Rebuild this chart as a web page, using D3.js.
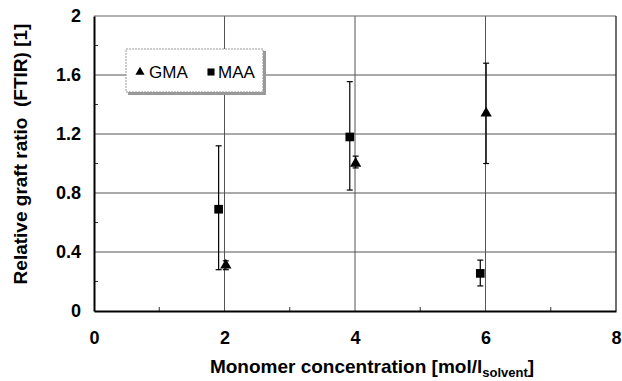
<!DOCTYPE html>
<html>
<head>
<meta charset="utf-8">
<script src="https://cdn.jsdelivr.net/npm/d3@7"></script>
<style>
  body { margin: 0; background: #fff; }
  text { font-family: "Liberation Sans", Arial, sans-serif; }
</style>
</head>
<body>
<div id="chart"></div>
<script>
// Axis ticks
const xTicks = [0, 2, 4, 6, 8];
const yTicks = [0, 0.4, 0.8, 1.2, 1.6, 2];
const xMinor = [1, 3, 5, 7];
const yMinor = [0.2, 0.6, 1.0, 1.4, 1.8];

// GMA series (triangles)
const gmaX = [2.02, 4.01, 6.01];
const gmaY = [0.31, 1.0, 1.34];
const gmaHi = [0.34, 1.05, 1.68];
const gmaLo = [0.28, 0.97, 1.0];

// MAA series (squares)
const maaX = [1.91, 3.92, 5.92];
const maaY = [0.69, 1.18, 0.255];
const maaHi = [1.12, 1.555, 0.345];
const maaLo = [0.28, 0.82, 0.17];

const width = 622, height = 381;
const margin = { top: 16, right: 6, bottom: 70, left: 94 };

const svg = d3.select("#chart").append("svg")
    .attr("width", width)
    .attr("height", height);

const x = d3.scaleLinear().domain([0, 8]).range([margin.left, width - margin.right]);
const y = d3.scaleLinear().domain([0, 2]).range([height - margin.bottom, margin.top]);

// gridlines
svg.append("g")
    .selectAll("line")
    .data(yTicks.filter(d => d > 0 && d < 2))
    .join("line")
    .attr("x1", x(0)).attr("x2", x(8))
    .attr("y1", d => y(d)).attr("y2", d => y(d))
    .attr("stroke", "#555").attr("stroke-width", 1);

svg.append("g")
    .selectAll("line")
    .data(xTicks.filter(d => d > 0 && d < 8))
    .join("line")
    .attr("x1", d => x(d)).attr("x2", d => x(d))
    .attr("y1", y(0)).attr("y2", y(2))
    .attr("stroke", "#555").attr("stroke-width", 1);

// minor ticks (inside)
svg.append("g")
    .selectAll("line")
    .data(yMinor)
    .join("line")
    .attr("x1", x(0)).attr("x2", x(0) + 4)
    .attr("y1", d => y(d)).attr("y2", d => y(d))
    .attr("stroke", "#333");

svg.append("g")
    .selectAll("line")
    .data(xMinor)
    .join("line")
    .attr("x1", d => x(d)).attr("x2", d => x(d))
    .attr("y1", y(0)).attr("y2", y(0) - 4)
    .attr("stroke", "#333");

// frame
svg.append("line").attr("x1", x(0)).attr("x2", x(8)).attr("y1", y(2)).attr("y2", y(2))
    .attr("stroke", "#666").attr("stroke-width", 1.2);
svg.append("line").attr("x1", x(8)).attr("x2", x(8)).attr("y1", y(2)).attr("y2", y(0))
    .attr("stroke", "#111").attr("stroke-width", 1.2);

// axes
const xAxis = svg.append("g")
    .attr("transform", `translate(0,${y(0)})`)
    .call(d3.axisBottom(x).tickValues(xTicks).tickSize(0).tickPadding(20).tickFormat(d3.format("d")));
xAxis.select(".domain").attr("stroke", "#000").attr("stroke-width", 2);
xAxis.selectAll("text")
    .attr("font-size", 18).attr("font-weight", "bold").attr("fill", "#000")
    .attr("font-family", "'Liberation Sans', Arial, sans-serif");

const yAxis = svg.append("g")
    .attr("transform", `translate(${x(0)},0)`)
    .call(d3.axisLeft(y).tickValues(yTicks).tickSize(0).tickPadding(13)
        .tickFormat(d => d === 0 || d === 2 ? d3.format("d")(d) : d3.format(".1f")(d)));
yAxis.select(".domain").attr("stroke", "#000").attr("stroke-width", 2);
yAxis.selectAll("text")
    .attr("font-size", 18).attr("font-weight", "bold").attr("fill", "#000")
    .attr("font-family", "'Liberation Sans', Arial, sans-serif");

// axis titles
const xTitle = svg.append("text")
    .attr("x", 372).attr("y", 373)
    .attr("text-anchor", "middle")
    .attr("font-size", 19).attr("font-weight", "bold");
xTitle.append("tspan").text("Monomer concentration [mol/l");
xTitle.append("tspan").attr("font-size", 13).attr("dy", 4).text("solvent");
xTitle.append("tspan").attr("dy", -4).text("]");

svg.append("text")
    .attr("transform", `translate(27,154) rotate(-90)`)
    .attr("text-anchor", "middle")
    .attr("font-size", 19).attr("font-weight", "bold")
    .attr("xml:space", "preserve")
    .text("Relative graft ratio  (FTIR) [1]");

// error bars
function errorBars(xs, lo, hi) {
    const g = svg.append("g").attr("stroke", "#000").attr("stroke-width", 1.2);
    const idx = d3.range(xs.length);
    g.selectAll(".v").data(idx).join("line")
        .attr("x1", i => x(xs[i])).attr("x2", i => x(xs[i]))
        .attr("y1", i => y(lo[i])).attr("y2", i => y(hi[i]));
    g.selectAll(".t").data(idx).join("line")
        .attr("x1", i => x(xs[i]) - 3).attr("x2", i => x(xs[i]) + 3)
        .attr("y1", i => y(hi[i])).attr("y2", i => y(hi[i]));
    g.selectAll(".b").data(idx).join("line")
        .attr("x1", i => x(xs[i]) - 3).attr("x2", i => x(xs[i]) + 3)
        .attr("y1", i => y(lo[i])).attr("y2", i => y(lo[i]));
}
errorBars(gmaX, gmaLo, gmaHi);
errorBars(maaX, maaLo, maaHi);

const tri = d3.symbol().type(d3.symbolTriangle).size(55);
const sq = d3.symbol().type(d3.symbolSquare).size(75);

svg.append("g").selectAll("path")
    .data(d3.range(gmaX.length))
    .join("path")
    .attr("d", tri)
    .attr("transform", i => `translate(${x(gmaX[i])},${y(gmaY[i])})`)
    .attr("fill", "#000");

svg.append("g").selectAll("path")
    .data(d3.range(maaX.length))
    .join("path")
    .attr("d", sq)
    .attr("transform", i => `translate(${x(maaX[i])},${y(maaY[i])})`)
    .attr("fill", "#000");

// legend
const legend = svg.append("g").attr("transform", "translate(126,49)");
legend.append("rect").attr("x", 2).attr("y", 2).attr("width", 138).attr("height", 44).attr("fill", "#999");
legend.append("rect").attr("x", 0).attr("y", 0).attr("width", 137).attr("height", 43)
    .attr("fill", "#fff").attr("stroke", "#999").attr("stroke-dasharray", "2,1");
legend.append("path").attr("d", d3.symbol().type(d3.symbolTriangle).size(36))
    .attr("transform", "translate(14,23)").attr("fill", "#000");
legend.append("text").attr("x", 23).attr("y", 29).attr("font-size", 17).text("GMA");
legend.append("path").attr("d", d3.symbol().type(d3.symbolSquare).size(50))
    .attr("transform", "translate(85,23)").attr("fill", "#000");
legend.append("text").attr("x", 92).attr("y", 29).attr("font-size", 17).text("MAA");
</script>
</body>
</html>
